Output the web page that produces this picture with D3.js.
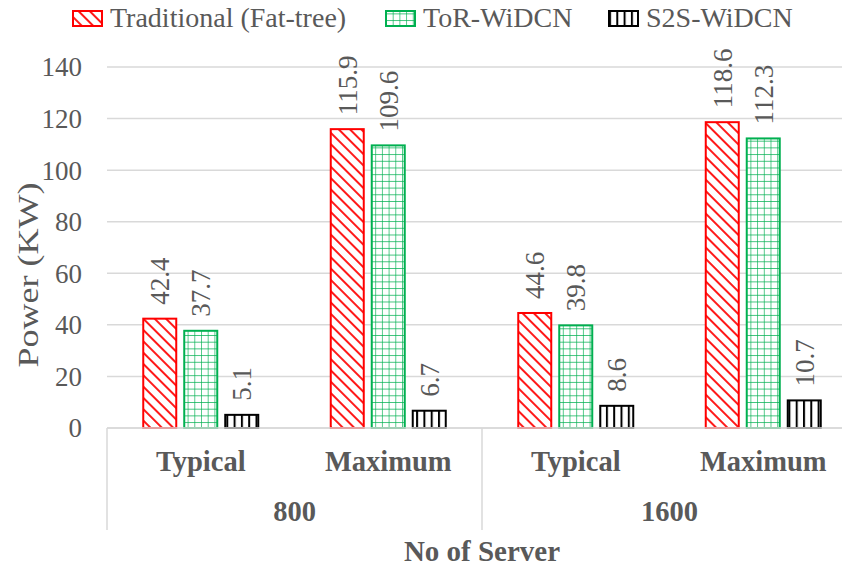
<!DOCTYPE html>
<html>
<head>
<meta charset="utf-8">
<script src="https://cdn.jsdelivr.net/npm/d3@7"></script>
<style>
  body { margin: 0; background: #fff; }
  svg text { font-family: "Liberation Serif", "Times New Roman", serif; fill: #595959; }
</style>
</head>
<body>
<svg width="842" height="567"></svg>
<script>
// data
const groups = ["800", "1600"];
const categories = ["Typical", "Maximum"];
const seriesNames = ["Traditional (Fat-tree)", "ToR-WiDCN", "S2S-WiDCN"];
const traditional = [42.4, 115.9, 44.6, 118.6];
const torWidcn = [37.7, 109.6, 39.8, 112.3];
const s2sWidcn = [5.1, 6.7, 8.6, 10.7];
const yTicks = [0, 20, 40, 60, 80, 100, 120, 140];

const seriesValues = [traditional, torWidcn, s2sWidcn];
const strokeCol = ["#ff0000", "#00b050", "#000000"];
const fillPat = ["url(#patRed)", "url(#patGreen)", "url(#patBlack)"];

var svg = d3.select("svg");

// patterns
var defs = svg.append("defs");
var pr = defs.append("pattern").attr("id", "patRed")
  .attr("patternUnits", "userSpaceOnUse").attr("width", 8).attr("height", 8)
  .attr("patternTransform", "rotate(-45)");
pr.append("rect").attr("width", 8).attr("height", 8).attr("fill", "#fff");
pr.append("line").attr("x1", 4).attr("x2", 4).attr("y1", 0).attr("y2", 8)
  .attr("stroke", "#ff0000").attr("stroke-width", 1.8);

var pg = defs.append("pattern").attr("id", "patGreen")
  .attr("patternUnits", "userSpaceOnUse").attr("width", 6.7).attr("height", 6.7);
pg.append("rect").attr("width", 6.7).attr("height", 6.7).attr("fill", "#fff");
pg.append("path").attr("d", "M0,0H6.7M0,0V6.7")
  .attr("stroke", "#00b050").attr("stroke-width", 1.3).attr("fill", "none");

var pb = defs.append("pattern").attr("id", "patBlack")
  .attr("patternUnits", "userSpaceOnUse").attr("width", 7.3).attr("height", 7.3);
pb.append("rect").attr("width", 7.3).attr("height", 7.3).attr("fill", "#fff");
pb.append("line").attr("x1", 1).attr("x2", 1).attr("y1", 0).attr("y2", 7.3)
  .attr("stroke", "#000").attr("stroke-width", 2);

// scales
var plotLeft = 107, plotRight = 857;
var y = d3.scaleLinear().domain([0, 140]).range([428, 67]);
var xGroup = d3.scaleBand().domain(groups).range([plotLeft, plotRight]);
var xCat = d3.scaleBand().domain(categories).range([0, xGroup.bandwidth()]);
var xSer = d3.scaleBand().domain(seriesNames).range([-57.5, 57.5]).paddingInner(0.195);

// gridlines
svg.append("g").selectAll("line").data(yTicks).join("line")
  .attr("x1", plotLeft).attr("x2", plotRight)
  .attr("y1", d => y(d)).attr("y2", d => y(d))
  .attr("stroke", "#d9d9d9").attr("stroke-width", 1.5);

// y tick labels
svg.append("g").selectAll("text").data(yTicks).join("text")
  .attr("x", 82).attr("y", d => y(d)).attr("dy", "0.35em")
  .attr("text-anchor", "end").style("font-size", "27px")
  .text(d => d);

// bars
var rows = [];
groups.forEach(function(g, gi) {
  categories.forEach(function(c, ci) {
    var idx = gi * categories.length + ci;
    seriesNames.forEach(function(s, si) {
      rows.push({group: g, cat: c, ser: s, si: si, value: seriesValues[si][idx]});
    });
  });
});
function barX(d) {
  return xGroup(d.group) + xCat(d.cat) + xCat.bandwidth() / 2 + xSer(d.ser);
}

svg.append("g").selectAll("rect").data(rows).join("rect")
  .attr("x", barX)
  .attr("y", d => y(d.value))
  .attr("width", xSer.bandwidth())
  .attr("height", d => y(0) - y(d.value))
  .attr("fill", d => fillPat[d.si])
  .attr("stroke", d => strokeCol[d.si])
  .attr("stroke-width", 2);

// data labels (rotated)
svg.append("g").selectAll("text").data(rows).join("text")
  .attr("transform", function(d) {
    var cx = barX(d) + xSer.bandwidth() / 2;
    return "translate(" + cx + "," + (y(d.value) - 14) + ") rotate(-90)";
  })
  .attr("dy", "0.35em")
  .style("font-size", "27px")
  .text(d => d.value.toFixed(1));

// axis base line and category separators
svg.append("line").attr("x1", plotLeft).attr("x2", plotRight)
  .attr("y1", y(0)).attr("y2", y(0)).attr("stroke", "#d9d9d9").attr("stroke-width", 1.5);
var seps = [plotLeft, xGroup("1600"), plotRight];
svg.append("g").selectAll("line").data(seps).join("line")
  .attr("x1", d => d).attr("x2", d => d)
  .attr("y1", y(0)).attr("y2", 530)
  .attr("stroke", "#d9d9d9").attr("stroke-width", 1.5);

// category labels
var catRows = [];
groups.forEach(g => categories.forEach(c => catRows.push({group: g, cat: c})));
svg.append("g").selectAll("text").data(catRows).join("text")
  .attr("x", d => xGroup(d.group) + xCat(d.cat) + xCat.bandwidth() / 2)
  .attr("y", 471)
  .attr("text-anchor", "middle")
  .style("font-size", "28.5px").style("font-weight", "bold")
  .text(d => d.cat);

svg.append("g").selectAll("text").data(groups).join("text")
  .attr("x", d => xGroup(d) + xGroup.bandwidth() / 2)
  .attr("y", 521)
  .attr("text-anchor", "middle")
  .style("font-size", "28.5px").style("font-weight", "bold")
  .text(d => d);

// axis titles
svg.append("text")
  .attr("x", 482).attr("y", 561)
  .attr("text-anchor", "middle")
  .style("font-size", "29px").style("font-weight", "bold")
  .text("No of Server");

svg.append("text")
  .attr("transform", "translate(28,275) rotate(-90)")
  .attr("dy", "0.35em")
  .attr("text-anchor", "middle")
  .attr("textLength", 185)
  .attr("lengthAdjust", "spacingAndGlyphs")
  .style("font-size", "29px")
  .text("Power (KW)");

// legend
var legendX = [73, 386, 609];
var legend = svg.append("g").selectAll("g").data(seriesNames).join("g")
  .attr("transform", (d, i) => "translate(" + legendX[i] + ",0)");
legend.append("rect")
  .attr("x", 0).attr("y", 11).attr("width", 29).attr("height", 15)
  .attr("fill", (d, i) => fillPat[i])
  .attr("stroke", (d, i) => strokeCol[i])
  .attr("stroke-width", 2);
legend.append("text")
  .attr("x", 37).attr("y", 17).attr("dy", "0.35em")
  .style("font-size", "28px")
  .text(d => d);
</script>
</body>
</html>
